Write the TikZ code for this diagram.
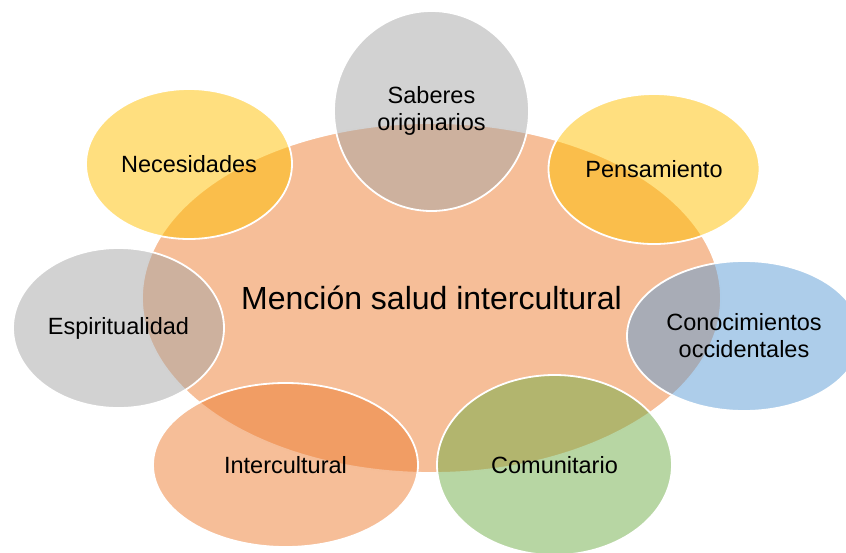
\documentclass[tikz,border=0pt]{standalone}
\usepackage{fontspec}
\setmainfont{Liberation Sans}
\usetikzlibrary{shapes.geometric}
\definecolor{smorange}{HTML}{ED7D31}
\definecolor{smgray}{HTML}{A5A5A5}
\definecolor{smyellow}{HTML}{FFC000}
\definecolor{smblue}{HTML}{5B9BD5}
\definecolor{smgreen}{HTML}{70AD47}

\begin{document}
\begin{tikzpicture}[
    x=1pt, y=-1pt, font=\fontsize{23.5}{27}\selectfont,
    bubble/.style={ellipse, draw=white, line width=1.8pt, fill opacity=0.5,
                text opacity=1, inner sep=0pt, align=center},
    hub/.style={bubble, fill=smorange, font=\fontsize{32}{38}\selectfont}
]
\useasboundingbox (0,0) rectangle (846,552);
\node[hub, minimum width=579pt, minimum height=350pt] (hub) at (431.5,298) {Mención salud intercultural};
\node[bubble, fill=smgray,   minimum width=195pt, minimum height=200pt] (saberes)        at (431.5,111) {Saberes\\originarios};
\node[bubble, fill=smyellow, minimum width=206pt, minimum height=150pt] (necesidades)    at (189,164)   {Necesidades};
\node[bubble, fill=smyellow, minimum width=211pt, minimum height=150pt] (pensamiento)    at (654,169)   {Pensamiento};
\node[bubble, fill=smgray,   minimum width=211pt, minimum height=160pt] (espiritualidad) at (118.5,328) {Espiritualidad};
\node[bubble, fill=smblue,   minimum width=234pt, minimum height=150pt] (conocimientos)  at (744,336)   {Conocimientos\\occidentales};
\node[bubble, fill=smorange, minimum width=265pt, minimum height=164pt] (intercultural)  at (285.5,465) {Intercultural};
\node[bubble, fill=smgreen,  minimum width=235pt, minimum height=180pt] (comunitario)    at (554.5,465) {Comunitario};
\end{tikzpicture}
\end{document}
